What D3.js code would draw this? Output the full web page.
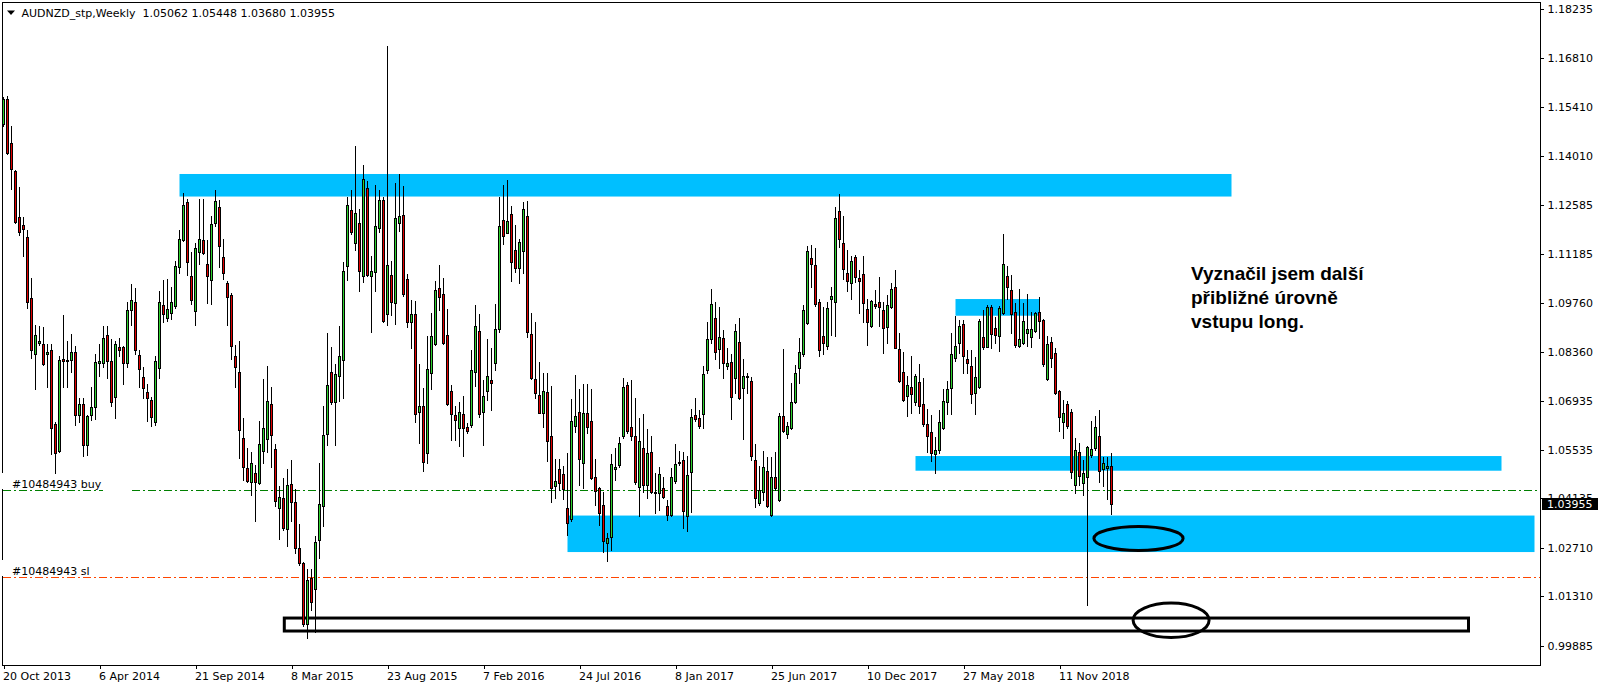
<!DOCTYPE html>
<html><head><meta charset="utf-8">
<script src="https://cdn.jsdelivr.net/npm/d3@7"></script>
<style>
html,body{margin:0;padding:0;background:#fff;}
svg{display:block;}
</style></head><body>
<svg id="c" width="1604" height="689"></svg>
<script>
// ---------- DATA ----------
const symbolName = "AUDNZD_stp";
const periodName = "Weekly";
const openP = [1.1491,1.1565,1.1437,1.1357,1.1224,1.1200,1.1167,1.0991,1.0829,1.0861,
1.0859,1.0828,1.0842,1.0628,1.0551,1.0816,1.0808,1.0813,1.0834,1.0653,
1.0685,1.0567,1.0653,1.0677,1.0804,1.0802,1.0884,1.0808,1.0706,1.0848,
1.0850,1.0802,1.0957,1.0980,1.0827,1.0762,1.0720,1.0696,1.0632,1.0788,
1.0970,1.0934,1.0948,1.0968,1.1080,1.1158,1.1267,1.1053,1.0952,1.1122,
1.1158,1.1090,1.1042,1.1208,1.1254,1.1109,1.1035,1.0999,1.0824,1.0776,
1.0587,1.0500,1.0461,1.0485,1.0458,1.0551,1.0583,1.0685,1.0556,1.0386,
1.0415,1.0324,1.0455,1.0404,1.0269,1.0226,1.0050,1.0183,1.0151,1.0292,
1.0391,1.0599,1.0778,1.0690,1.0765,1.0813,1.1083,1.1243,1.1149,1.1208,
1.1055,1.1309,1.1055,1.1066,1.1192,1.1272,1.0944,1.1057,1.0975,1.1208,
1.1230,1.1044,1.0920,1.0944,1.0663,1.0679,1.0545,1.0775,1.0858,1.1018,
1.1001,1.0884,1.0723,1.0653,1.0615,1.0655,1.0618,1.0625,1.0776,1.0895,
1.0663,1.0723,1.0754,1.0802,1.0901,1.1215,1.1179,1.1233,1.1129,1.1076,
1.1127,1.1227,1.0887,1.0756,1.0711,1.0658,1.0719,1.0593,1.0449,1.0497,
1.0483,1.0384,1.0353,1.0622,1.0663,1.0514,1.0658,1.0637,1.0476,1.0442,
1.0394,1.0285,1.0301,1.0497,1.0509,1.0593,1.0740,1.0620,1.0593,1.0445,
1.0557,1.0453,1.0546,1.0432,1.0428,1.0442,1.0391,1.0365,1.0463,1.0516,
1.0524,1.0363,1.0490,1.0653,1.0644,1.0655,1.0783,1.0871,1.0932,1.0843,
1.0874,1.0795,1.0805,1.0759,1.0865,1.0730,1.0767,1.0751,1.0524,1.0399,
1.0432,1.0493,1.0365,1.0474,1.0408,1.0650,1.0599,1.0615,1.0690,1.0788,
1.0828,1.0918,1.1105,1.1086,1.0978,1.0881,1.0852,1.0987,1.0978,1.1242,
1.1148,1.1062,1.1035,1.1108,1.1049,1.1059,1.0958,1.0911,1.0973,1.0980,
1.0956,1.0908,1.0966,1.1023,1.0843,1.0778,1.0709,1.0733,1.0692,1.0748,
1.0684,1.0628,1.0605,1.0540,1.0553,1.0615,1.0692,1.0732,1.0817,1.0860,
1.0915,1.0814,1.0795,1.0718,1.0735,1.0877,1.0850,1.0964,1.0903,1.0881,
1.0948,1.1055,1.1014,1.0951,1.0853,1.0860,1.0889,1.0877,1.0896,1.0949,
1.0927,1.0756,1.0865,1.0831,1.0723,1.0634,1.0684,1.0661,1.0452,1.0546,
1.0457,1.0474,1.0538,1.0557,1.0593,1.0497,1.0500,1.05062];
const highP = [1.1571,1.1574,1.1485,1.1359,1.1311,1.1224,1.1186,1.1048,1.0914,1.0909,
1.0906,1.0859,1.0859,1.0632,1.0824,1.0943,1.0868,1.0888,1.0852,1.0703,
1.0701,1.0653,1.0735,1.0829,1.0859,1.0909,1.0909,1.0872,1.0866,1.0874,
1.0852,1.0980,1.1032,1.1019,1.0840,1.0792,1.0743,1.0706,1.0824,1.1012,
1.1042,1.1045,1.1023,1.1098,1.1186,1.1293,1.1275,1.1122,1.1149,1.1277,
1.1277,1.1157,1.1226,1.1301,1.1272,1.1160,1.1040,1.1005,1.0856,1.0866,
1.0645,1.0557,1.0546,1.0509,1.0635,1.0756,1.0794,1.0735,1.0570,1.0450,
1.0471,1.0498,1.0525,1.0439,1.0338,1.0231,1.0210,1.0210,1.0306,1.0514,
1.0680,1.0890,1.0848,1.0799,1.0909,1.1094,1.1283,1.1301,1.1429,1.1247,
1.1375,1.1327,1.1112,1.1317,1.1301,1.1283,1.1718,1.1097,1.1321,1.1348,
1.1313,1.1060,1.0985,1.0983,1.0800,1.0730,1.0881,1.0946,1.1040,1.1086,
1.1047,1.0959,1.0740,1.0679,1.0692,1.0708,1.0631,1.0841,1.0970,1.0944,
1.0754,1.0871,1.0846,1.0973,1.1283,1.1316,1.1331,1.1256,1.1201,1.1160,
1.1268,1.1270,1.0946,1.0920,1.0807,1.0775,1.0775,1.0737,1.0528,1.0528,
1.0506,1.0545,1.0699,1.0769,1.0727,1.0742,1.0743,1.0727,1.0526,1.0447,
1.0432,1.0312,1.0541,1.0557,1.0591,1.0759,1.0749,1.0754,1.0701,1.0644,
1.0655,1.0612,1.0593,1.0487,1.0504,1.0474,1.0408,1.0500,1.0570,1.0551,
1.0548,1.0535,1.0670,1.0703,1.0668,1.0795,1.0922,1.1016,1.0980,1.0966,
1.0898,1.0846,1.0829,1.0916,1.0932,1.0814,1.0775,1.0762,1.0570,1.0506,
1.0551,1.0533,1.0533,1.0548,1.0660,1.0843,1.0634,1.0745,1.0797,1.0874,
1.0970,1.1141,1.1143,1.1134,1.0987,1.0966,1.0980,1.1021,1.1252,1.1290,
1.1227,1.1129,1.1112,1.1115,1.1071,1.1112,1.0987,1.0985,1.1014,1.1050,
1.0980,1.0999,1.1035,1.1071,1.0889,1.0836,1.0766,1.0822,1.0772,1.0799,
1.0759,1.0670,1.0653,1.0591,1.0668,1.0727,1.0752,1.0889,1.0939,1.0927,
1.0927,1.0841,1.0841,1.0820,1.0929,1.0956,1.0970,1.0970,1.0937,1.0968,
1.1175,1.1083,1.1057,1.0975,1.1016,1.0977,1.1001,1.0951,1.0951,1.0994,
1.0929,1.0881,1.0879,1.0846,1.0725,1.0697,1.0695,1.0670,1.0586,1.0574,
1.0524,1.0564,1.0636,1.0650,1.0668,1.0533,1.0531,1.05448];
const lowP = [1.1485,1.1405,1.1304,1.1208,1.1171,1.1112,1.0962,1.0818,1.0728,1.0856,
1.0797,1.0733,1.0541,1.0487,1.0548,1.0733,1.0733,1.0776,1.0626,1.0632,
1.0535,1.0539,1.0639,1.0642,1.0765,1.0792,1.0760,1.0680,1.0645,1.0824,
1.0743,1.0792,1.0914,1.0829,1.0733,1.0701,1.0635,1.0621,1.0626,1.0760,
1.0920,1.0925,1.0930,1.0962,1.1064,1.1154,1.1058,1.0973,1.0914,1.1090,
1.1117,1.0976,1.0973,1.1197,1.1080,1.1045,1.0914,1.0816,1.0733,1.0530,
1.0466,1.0461,1.0423,1.0349,1.0455,1.0514,1.0546,1.0503,1.0391,1.0295,
1.0322,1.0276,1.0349,1.0255,1.0221,1.0044,1.0012,1.0092,1.0028,1.0242,
1.0333,1.0567,1.0685,1.0567,1.0695,1.0703,1.1042,1.1176,1.1128,1.1012,
1.1037,1.1055,1.0893,1.1010,1.1181,1.0920,1.0914,1.0942,1.0917,1.1185,
1.0997,1.0908,1.0847,1.0634,1.0572,1.0493,1.0516,1.0727,1.0855,1.0956,
1.0857,1.0682,1.0581,1.0581,1.0564,1.0535,1.0602,1.0620,1.0737,1.0649,
1.0567,1.0697,1.0668,1.0783,1.0894,1.1146,1.1177,1.1041,1.1066,1.1033,
1.1062,1.0877,1.0756,1.0701,1.0658,1.0618,1.0522,1.0404,1.0413,1.0437,
1.0410,1.0308,1.0349,1.0605,1.0452,1.0444,1.0602,1.0468,1.0394,1.0336,
1.0259,1.0234,1.0264,1.0466,1.0504,1.0586,1.0602,1.0581,1.0454,1.0362,
1.0432,1.0413,1.0430,1.0372,1.0380,1.0413,1.0351,1.0362,1.0458,1.0509,
1.0329,1.0320,1.0375,1.0637,1.0615,1.0615,1.0775,1.0862,1.0814,1.0788,
1.0759,1.0785,1.0641,1.0718,1.0699,1.0583,1.0718,1.0524,1.0387,1.0394,
1.0408,1.0389,1.0362,1.0437,1.0406,1.0605,1.0586,1.0612,1.0687,1.0745,
1.0823,1.0916,1.1021,1.0968,1.0822,1.0828,1.0843,1.0884,1.0882,1.1139,
1.1044,1.1012,1.0987,1.1038,1.0946,1.0920,1.0855,1.0908,1.0961,1.0910,
1.0833,1.0860,1.0961,1.0846,1.0749,1.0695,1.0651,1.0660,1.0682,1.0658,
1.0622,1.0548,1.0522,1.0485,1.0545,1.0612,1.0655,1.0655,1.0810,1.0833,
1.0773,1.0773,1.0687,1.0655,1.0730,1.0843,1.0848,1.0846,1.0860,1.0839,
1.0945,1.0987,1.0891,1.0850,1.0848,1.0857,1.0853,1.0850,1.0894,1.0874,
1.0795,1.0754,1.0791,1.0714,1.0608,1.0586,1.0615,1.0471,1.0430,1.0452,
1.0423,1.0106,1.0533,1.0553,1.0461,1.0449,1.0410,1.03680];
const closeP = [1.1565,1.1409,1.1363,1.1211,1.1181,1.1190,1.0978,1.0840,1.0884,1.0866,
1.0801,1.0836,1.0615,1.0543,1.0813,1.0808,1.0813,1.0834,1.0653,1.0685,
1.0567,1.0651,1.0677,1.0805,1.0808,1.0874,1.0808,1.0690,1.0859,1.0840,
1.0802,1.0955,1.0984,1.0842,1.0786,1.0730,1.0703,1.0647,1.0808,1.0980,
1.0944,1.0960,1.0980,1.1082,1.1162,1.1258,1.1093,1.0984,1.1136,1.1162,
1.1119,1.1053,1.1203,1.1269,1.1141,1.1064,1.0994,1.0853,1.0792,1.0609,
1.0503,1.0463,1.0514,1.0461,1.0570,1.0615,1.0694,1.0596,1.0406,1.0418,
1.0327,1.0452,1.0404,1.0269,1.0226,1.0050,1.0178,1.0114,1.0288,1.0397,
1.0596,1.0740,1.0690,1.0772,1.0824,1.1069,1.1258,1.1181,1.1235,1.1069,
1.1333,1.1058,1.1067,1.1197,1.1272,1.0923,1.1087,1.0980,1.1220,1.1227,
1.1002,1.0920,1.0944,1.0655,1.0679,1.0519,1.0785,1.0881,1.1014,1.0994,
1.0860,1.0684,1.0655,1.0639,1.0661,1.0615,1.0608,1.0783,1.0910,1.0655,
1.0708,1.0766,1.0745,1.0901,1.1198,1.1170,1.1213,1.1095,1.1076,1.1151,
1.1247,1.0894,1.0759,1.0716,1.0660,1.0723,1.0579,1.0442,1.0463,1.0456,
1.0439,1.0343,1.0636,1.0650,1.0526,1.0658,1.0620,1.0473,1.0435,1.0370,
1.0291,1.0300,1.0512,1.0503,1.0572,1.0733,1.0608,1.0593,1.0459,1.0578,
1.0453,1.0545,1.0432,1.0428,1.0483,1.0418,1.0365,1.0476,1.0512,1.0519,
1.0378,1.0480,1.0647,1.0641,1.0622,1.0771,1.0871,1.0972,1.0836,1.0877,
1.0802,1.0802,1.0704,1.0896,1.0703,1.0766,1.0762,1.0535,1.0413,1.0437,
1.0503,1.0391,1.0476,1.0442,1.0650,1.0608,1.0622,1.0690,1.0773,1.0834,
1.0956,1.1126,1.1088,1.0972,1.0841,1.0860,1.0961,1.0996,1.1220,1.1160,
1.1073,1.1041,1.1097,1.1052,1.1040,1.0977,1.0920,1.0983,1.0968,1.0964,
1.0903,1.0970,1.1016,1.0847,1.0752,1.0697,1.0740,1.0714,1.0767,1.0680,
1.0627,1.0594,1.0545,1.0553,1.0632,1.0694,1.0728,1.0828,1.0852,1.0910,
1.0824,1.0802,1.0713,1.0762,1.0924,1.0850,1.0964,1.0887,1.0884,1.0961,
1.1088,1.1023,1.0945,1.0855,1.0872,1.0924,1.0900,1.0900,1.0947,1.0925,
1.0799,1.0858,1.0817,1.0716,1.0649,1.0658,1.0622,1.0490,1.0553,1.0479,
1.0485,1.0560,1.0554,1.0618,1.0493,1.0514,1.0506,1.03955];

const xTickLabels = ["20 Oct 2013","6 Apr 2014","21 Sep 2014","8 Mar 2015","23 Aug 2015","7 Feb 2016","24 Jul 2016","8 Jan 2017","25 Jun 2017","10 Dec 2017","27 May 2018","11 Nov 2018"];
const xTickBars = [0,24,48,72,96,120,144,168,192,216,240,264];
const yTickValues = [1.18235,1.16810,1.15410,1.14010,1.12585,1.11185,1.09760,1.08360,1.06935,1.05535,1.04135,1.02710,1.01310,0.99885];

// drawn zones (bar index / price)
const zoneStartBar = [44, 238, 228, 141];
const zoneEndBar   = [307, 259, 374.5, 382.75];
const zoneTop      = [1.1348, 1.09876, 1.05351, 1.03636];
const zoneBottom   = [1.1283, 1.09395, 1.04928, 1.02584];
// outlined box
const boxBars   = [70.2, 366.25];
const boxPrices = [1.00682, 1.00308];
// ellipses
const ellLeftBar  = [272.6, 282.4];
const ellRightBar = [294.9, 301.4];
const ellTop      = [1.03319, 1.01114];
const ellBottom   = [1.02628, 1.0012];
// order lines
const orderLabels = ["#10484943 buy", "#10484943 sl"];
const orderPrices = [1.0436, 1.0187];
const orderColors = ["#008000", "#FF4500"];
// note
const noteLines = ["Vyznačil jsem další", "přibližné úrovně", "vstupu long."];
const noteBar = 297;
const notePrice = 1.1135;

// ---------- CHART ----------
const svg = d3.select("#c");
const W = 1604, H = 689;
const plotL = 2.5, plotR = 1540.5, plotT = 2.5, plotB = 665.5;
const font = "'DejaVu Sans', Tahoma, Verdana, sans-serif";

const x = d3.scaleLinear().domain([0, 100]).range([3.5, 403.5]);
const y = d3.scaleLinear().domain([0.99885, 1.18235]).range([645.7, 9]);

svg.append("rect").attr("width", W).attr("height", H).attr("fill", "#fff");

const clip = svg.append("defs").append("clipPath").attr("id", "pc")
  .append("rect").attr("x", plotL).attr("y", plotT).attr("width", plotR - plotL).attr("height", plotB - plotT);

const plot = svg.append("g").attr("clip-path", "url(#pc)");

// zones
plot.selectAll("rect.zone").data(zoneStartBar).join("rect").attr("class", "zone")
  .attr("x", (d, i) => x(d)).attr("width", (d, i) => x(zoneEndBar[i]) - x(d))
  .attr("y", (d, i) => y(zoneTop[i])).attr("height", (d, i) => y(zoneBottom[i]) - y(zoneTop[i]))
  .attr("fill", "#00BFFF");

// order lines
orderPrices.forEach((p, k) => {
  const yy = Math.round(y(p)) + 0.5;
  const segs = k === 0 ? [[plotL, 103], [132, plotR]] : [[plotL, plotR]];
  segs.forEach(s => {
    plot.append("line").attr("x1", s[0]).attr("x2", s[1]).attr("y1", yy).attr("y2", yy)
      .attr("stroke", orderColors[k]).attr("stroke-width", 1)
      .attr("stroke-dasharray", "8,3,2,3").attr("shape-rendering", "crispEdges");
  });
});

// outlined box
plot.append("rect")
  .attr("x", x(boxBars[0])).attr("width", x(boxBars[1]) - x(boxBars[0]))
  .attr("y", y(boxPrices[0])).attr("height", y(boxPrices[1]) - y(boxPrices[0]))
  .attr("fill", "none").attr("stroke", "#000").attr("stroke-width", 3);

// candles
const idx = d3.range(openP.length);
const cg = plot.append("g").attr("shape-rendering", "crispEdges");
cg.selectAll("line.wick").data(idx).join("line").attr("class", "wick")
  .attr("x1", i => x(i)).attr("x2", i => x(i))
  .attr("y1", i => Math.round(y(highP[i]))).attr("y2", i => Math.round(y(lowP[i])) + 1)
  .attr("stroke", "#000").attr("stroke-width", 1);
cg.selectAll("rect.body").data(idx).join("rect").attr("class", "body")
  .attr("x", i => x(i) - 1).attr("width", 2)
  .attr("y", i => Math.round(y(Math.max(openP[i], closeP[i]))) + 0.5)
  .attr("height", i => Math.max(1, Math.round(y(Math.min(openP[i], closeP[i]))) - Math.round(y(Math.max(openP[i], closeP[i])))))
  .attr("fill", i => closeP[i] >= openP[i] ? "#2ED12E" : "#E00000")
  .attr("stroke", "#000").attr("stroke-width", 1);

// ellipses
plot.selectAll("ellipse").data(ellLeftBar).join("ellipse")
  .attr("cx", (d, i) => (x(d) + x(ellRightBar[i])) / 2)
  .attr("cy", (d, i) => (y(ellTop[i]) + y(ellBottom[i])) / 2)
  .attr("rx", (d, i) => (x(ellRightBar[i]) - x(d)) / 2)
  .attr("ry", (d, i) => (y(ellBottom[i]) - y(ellTop[i])) / 2)
  .attr("fill", "none").attr("stroke", "#000").attr("stroke-width", 3);

// frame
svg.append("rect").attr("x", plotL).attr("y", plotT).attr("width", plotR - plotL).attr("height", plotB - plotT)
  .attr("fill", "none").attr("stroke", "#000").attr("stroke-width", 1).attr("shape-rendering", "crispEdges");

// order labels (with small white backing over the frame)
orderPrices.forEach((p, k) => {
  const yy = Math.round(y(p));
  svg.append("rect").attr("x", 1).attr("y", yy - 17).attr("width", 3).attr("height", 16).attr("fill", "#fff");
  svg.append("text").attr("x", 12).attr("y", yy - 2.5).text(orderLabels[k])
    .attr("font-family", font).attr("font-size", 11).attr("fill", "#000");
});

// header
svg.append("path").attr("d", "M7,10.5 L15,10.5 L11,15 Z").attr("fill", "#000");
const last = openP.length - 1;
const f5 = d3.format(".5f");
svg.append("text").attr("x", 21.5).attr("y", 16.5)
  .style("white-space", "pre")
  .attr("font-family", font).attr("font-size", 11).attr("fill", "#000")
  .text(`${symbolName},${periodName}  ${f5(openP[last])} ${f5(highP[last])} ${f5(lowP[last])} ${f5(closeP[last])}`);

// right axis
const yAxis = d3.axisRight(y).tickValues(yTickValues).tickFormat(f5).tickSize(3).tickPadding(4);
const gy = svg.append("g").attr("transform", `translate(${plotR},0)`).call(yAxis);
gy.select(".domain").remove();
gy.attr("font-family", font).attr("font-size", 11).attr("color", "#000");
gy.selectAll(".tick line").attr("shape-rendering", "crispEdges");

// current price marker
const cy = Math.round(y(closeP[last]));
svg.append("rect").attr("x", 1542).attr("y", cy - 6).attr("width", 56).attr("height", 12).attr("fill", "#000");
svg.append("text").attr("x", 1547).attr("y", cy + 4).text(f5(closeP[last]))
  .attr("font-family", font).attr("font-size", 11).attr("fill", "#fff");

// bottom axis
const xAxis = d3.axisBottom(x).tickValues(xTickBars).tickFormat((d, i) => xTickLabels[i]).tickSize(4).tickPadding(3);
const gx = svg.append("g").attr("transform", `translate(0,${plotB - 0.5})`).call(xAxis);
gx.select(".domain").remove();
gx.attr("font-family", font).attr("font-size", 11).attr("color", "#000");
gx.selectAll(".tick text").attr("text-anchor", "start").attr("x", -1);
gx.selectAll(".tick line").attr("shape-rendering", "crispEdges");

// note text
const nt = svg.append("text").attr("font-family", "'Liberation Sans', Arial, sans-serif")
  .attr("font-weight", "bold").attr("font-size", 19).attr("fill", "#000");
noteLines.forEach((t, k) => {
  nt.append("tspan").attr("x", 1191).attr("y", 279.5 + k * 24).text(t);
});
</script>
</body></html>
